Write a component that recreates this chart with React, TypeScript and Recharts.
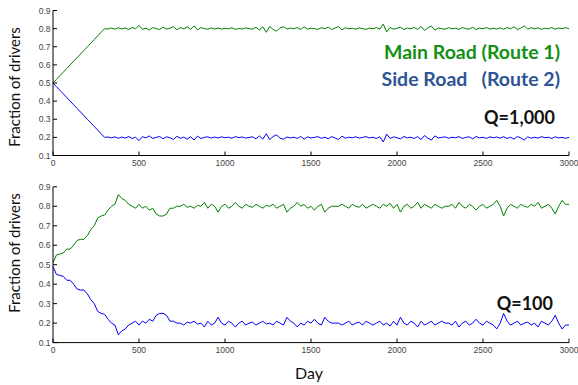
import { LineChart, Line, XAxis, YAxis } from "recharts"

// sampling days: every 20 days from 0 to 3000
const dayStep = 20
const xTicks = [0, 500, 1000, 1500, 2000, 2500, 3000]
const yTicks = [0.1, 0.2, 0.3, 0.4, 0.5, 0.6, 0.7, 0.8, 0.9]

// Q = 1,000
const mainRoadQ1000 = [
  0.5, 0.52, 0.54, 0.56, 0.58, 0.6, 0.62, 0.64, 0.66, 0.68,
  0.7, 0.72, 0.74, 0.76, 0.78, 0.8, 0.798, 0.803, 0.797, 0.805,
  0.798, 0.804, 0.795, 0.806, 0.799, 0.818, 0.796, 0.803, 0.792, 0.806,
  0.8, 0.795, 0.808, 0.797, 0.802, 0.812, 0.794, 0.805, 0.799, 0.81,
  0.796, 0.815, 0.793, 0.806, 0.8, 0.797, 0.804, 0.798, 0.803, 0.797,
  0.802, 0.799, 0.805, 0.796, 0.801, 0.798, 0.804, 0.8, 0.797, 0.808,
  0.792, 0.81, 0.78, 0.812, 0.795, 0.786, 0.805, 0.81, 0.798, 0.803,
  0.799, 0.806, 0.795, 0.81, 0.797, 0.803, 0.8, 0.796, 0.805, 0.799,
  0.808, 0.796, 0.803, 0.812, 0.793, 0.805, 0.799, 0.802, 0.797, 0.804,
  0.8, 0.796, 0.803, 0.799, 0.806, 0.797, 0.825, 0.782, 0.806, 0.797,
  0.802, 0.808, 0.795, 0.803, 0.799, 0.806, 0.796, 0.812, 0.79, 0.805,
  0.815, 0.792, 0.803, 0.8, 0.797, 0.805, 0.799, 0.802, 0.796, 0.806,
  0.8, 0.797, 0.808, 0.795, 0.803, 0.799, 0.806, 0.797, 0.802, 0.798,
  0.804, 0.796, 0.806, 0.799, 0.81, 0.795, 0.803, 0.815, 0.797, 0.805,
  0.799, 0.804, 0.796, 0.802, 0.799, 0.806, 0.797, 0.803, 0.8, 0.805,
  0.8,
]
const sideRoadQ1000 = [
  0.5, 0.48, 0.46, 0.44, 0.42, 0.4, 0.38, 0.36, 0.34, 0.32,
  0.3, 0.28, 0.26, 0.24, 0.22, 0.2, 0.202, 0.197, 0.203, 0.195,
  0.202, 0.196, 0.205, 0.194, 0.201, 0.182, 0.204, 0.197, 0.208, 0.194,
  0.2, 0.205, 0.192, 0.203, 0.198, 0.188, 0.206, 0.195, 0.201, 0.19,
  0.204, 0.185, 0.207, 0.194, 0.2, 0.203, 0.196, 0.202, 0.197, 0.203,
  0.198, 0.201, 0.195, 0.204, 0.199, 0.202, 0.196, 0.2, 0.203, 0.192,
  0.208, 0.19, 0.22, 0.188, 0.205, 0.214, 0.195, 0.19, 0.202, 0.197,
  0.201, 0.194, 0.205, 0.19, 0.203, 0.197, 0.2, 0.204, 0.195, 0.201,
  0.192, 0.204, 0.197, 0.188, 0.207, 0.195, 0.201, 0.198, 0.203, 0.196,
  0.2, 0.204, 0.197, 0.201, 0.194, 0.203, 0.175, 0.218, 0.194, 0.203,
  0.198, 0.192, 0.205, 0.197, 0.201, 0.194, 0.204, 0.188, 0.21, 0.195,
  0.185, 0.208, 0.197, 0.2, 0.203, 0.195, 0.201, 0.198, 0.204, 0.194,
  0.2, 0.203, 0.192, 0.205, 0.197, 0.201, 0.194, 0.203, 0.198, 0.202,
  0.196, 0.204, 0.194, 0.201, 0.19, 0.205, 0.197, 0.185, 0.203, 0.195,
  0.201, 0.196, 0.204, 0.198, 0.201, 0.194, 0.203, 0.197, 0.2, 0.195,
  0.2,
]

// Q = 100
const mainRoadQ100 = [
  0.51, 0.55, 0.555, 0.56, 0.58, 0.58, 0.6, 0.625, 0.63, 0.63,
  0.65, 0.68, 0.7, 0.74, 0.75, 0.755, 0.78, 0.8, 0.81, 0.86,
  0.84, 0.83, 0.81, 0.8, 0.79, 0.81, 0.79, 0.8, 0.78, 0.79,
  0.76, 0.75, 0.75, 0.76, 0.79, 0.79, 0.8, 0.8, 0.81, 0.795,
  0.8, 0.79, 0.805, 0.8, 0.82, 0.79, 0.81, 0.8, 0.77, 0.8,
  0.81, 0.79, 0.8, 0.82, 0.8, 0.79, 0.81, 0.8, 0.795, 0.81,
  0.8, 0.79, 0.805, 0.8, 0.81, 0.79, 0.8, 0.81, 0.77, 0.79,
  0.8, 0.82, 0.8, 0.81, 0.79, 0.8, 0.78, 0.8, 0.81, 0.77,
  0.79, 0.8, 0.8, 0.8, 0.81, 0.8, 0.79, 0.81, 0.8, 0.795,
  0.81, 0.79, 0.8, 0.81, 0.8, 0.79, 0.81, 0.8, 0.815, 0.79,
  0.81, 0.77, 0.8, 0.81, 0.79, 0.8, 0.82, 0.79, 0.81, 0.8,
  0.79, 0.81, 0.8, 0.79, 0.8, 0.8, 0.81, 0.79, 0.82, 0.8,
  0.79, 0.81, 0.8, 0.78, 0.8, 0.81, 0.79, 0.8, 0.81, 0.83,
  0.8, 0.75, 0.79, 0.81, 0.8, 0.79, 0.81, 0.8, 0.795, 0.81,
  0.8, 0.82, 0.79, 0.8, 0.81, 0.79, 0.76, 0.8, 0.83, 0.81,
  0.81,
]
const sideRoadQ100 = [
  0.49, 0.45, 0.445, 0.44, 0.42, 0.42, 0.4, 0.375, 0.37, 0.37,
  0.35, 0.32, 0.3, 0.26, 0.25, 0.245, 0.22, 0.2, 0.19, 0.14,
  0.16, 0.17, 0.19, 0.2, 0.21, 0.19, 0.21, 0.2, 0.22, 0.21,
  0.24, 0.25, 0.25, 0.24, 0.21, 0.21, 0.2, 0.2, 0.19, 0.205,
  0.2, 0.21, 0.195, 0.2, 0.18, 0.21, 0.19, 0.2, 0.23, 0.2,
  0.19, 0.21, 0.2, 0.18, 0.2, 0.21, 0.19, 0.2, 0.205, 0.19,
  0.2, 0.21, 0.195, 0.2, 0.19, 0.21, 0.2, 0.19, 0.23, 0.21,
  0.2, 0.18, 0.2, 0.19, 0.21, 0.2, 0.22, 0.2, 0.19, 0.23,
  0.21, 0.2, 0.2, 0.2, 0.19, 0.2, 0.21, 0.19, 0.2, 0.205,
  0.19, 0.21, 0.2, 0.19, 0.2, 0.21, 0.19, 0.2, 0.185, 0.21,
  0.19, 0.23, 0.2, 0.19, 0.21, 0.2, 0.18, 0.21, 0.19, 0.2,
  0.21, 0.19, 0.2, 0.21, 0.2, 0.2, 0.19, 0.21, 0.18, 0.2,
  0.21, 0.19, 0.2, 0.22, 0.2, 0.19, 0.21, 0.2, 0.19, 0.17,
  0.2, 0.25, 0.21, 0.19, 0.2, 0.21, 0.19, 0.2, 0.205, 0.19,
  0.2, 0.18, 0.21, 0.2, 0.19, 0.21, 0.24, 0.2, 0.17, 0.19,
  0.19,
]

const toRows = (main: number[], side: number[]) =>
  main.map((m, i) => ({ day: i * dayStep, main: m, side: side[i] }))

const topData = toRows(mainRoadQ1000, sideRoadQ1000)
const bottomData = toRows(mainRoadQ100, sideRoadQ100)

const tickFont = { fontSize: 8.5, fill: "#444", fontFamily: "Liberation Sans, Arial, sans-serif" }
const labelFont = "Lato, sans-serif"

function Panel({ data, height, top, xHeight }: { data: any[]; height: number; top: number; xHeight: number }) {
  return (
    <LineChart width={578} height={height} data={data} margin={{ top, right: 9, left: 0, bottom: 0 }}>
      <XAxis
        xAxisId="b"
        dataKey="day"
        type="number"
        domain={[0, 3000]}
        ticks={xTicks}
        height={xHeight}
        stroke="#000"
        tickSize={-4}
        tickMargin={8.5}
        tick={tickFont}
        interval={0}
      />
      <XAxis
        xAxisId="t"
        orientation="top"
        dataKey="day"
        type="number"
        domain={[0, 3000]}
        ticks={xTicks}
        height={0}
        stroke="#000"
        tickSize={-4}
        tickFormatter={() => ""}
      />
      <YAxis
        yAxisId="l"
        domain={[0.1, 0.9]}
        ticks={yTicks}
        width={53}
        stroke="#000"
        tickSize={-4}
        tickMargin={6.5}
        tick={tickFont}
        interval={0}
      />
      <YAxis
        yAxisId="r"
        orientation="right"
        domain={[0.1, 0.9]}
        ticks={yTicks}
        width={0}
        stroke="#000"
        tickSize={-4}
        tickFormatter={() => ""}
      />
      <Line xAxisId="b" yAxisId="l" type="linear" dataKey="main" stroke="#008000" strokeWidth={1} dot={false} isAnimationActive={false} />
      <Line xAxisId="b" yAxisId="l" type="linear" dataKey="side" stroke="#0000ff" strokeWidth={1} dot={false} isAnimationActive={false} />
    </LineChart>
  )
}

export default function App() {
  const ylab = {
    position: "absolute" as const,
    left: 14,
    transform: "translate(-50%, -50%) rotate(-90deg)",
    fontFamily: labelFont,
    fontSize: 15,
    color: "#111",
    whiteSpace: "nowrap" as const,
  }
  const big = {
    position: "absolute" as const,
    right: 18,
    fontFamily: labelFont,
    fontWeight: 700,
    fontSize: 19.5,
    lineHeight: "19px",
    whiteSpace: "pre" as const,
  }
  return (
    <div style={{ position: "absolute", left: 0, top: 0, width: 578, height: 385, background: "#fff", overflow: "hidden" }}>
      <div style={{ position: "absolute", left: 0, top: 0 }}>
        <Panel data={topData} height={175} top={10.5} xHeight={19.5} />
      </div>
      <div style={{ position: "absolute", left: 0, top: 176 }}>
        <Panel data={bottomData} height={187} top={10.8} xHeight={20.4} />
      </div>
      <div style={{ ...ylab, top: 87 }}>Fraction of drivers</div>
      <div style={{ ...ylab, top: 253 }}>Fraction of drivers</div>
      <div style={{ position: "absolute", left: 309, top: 372, transform: "translate(-50%, -50%)", fontFamily: labelFont, fontSize: 16, color: "#111" }}>
        Day
      </div>
      <div style={{ ...big, top: 42, color: "#149014" }}>Main Road (Route 1)</div>
      <div style={{ ...big, top: 69, color: "#2f5496" }}>{"Side Road   (Route 2)"}</div>
      <div style={{ ...big, top: 108, right: 23, fontSize: 18, color: "#111" }}>Q=1,000</div>
      <div style={{ ...big, top: 294, right: 25, fontSize: 18, color: "#111" }}>Q=100</div>
    </div>
  )
}
